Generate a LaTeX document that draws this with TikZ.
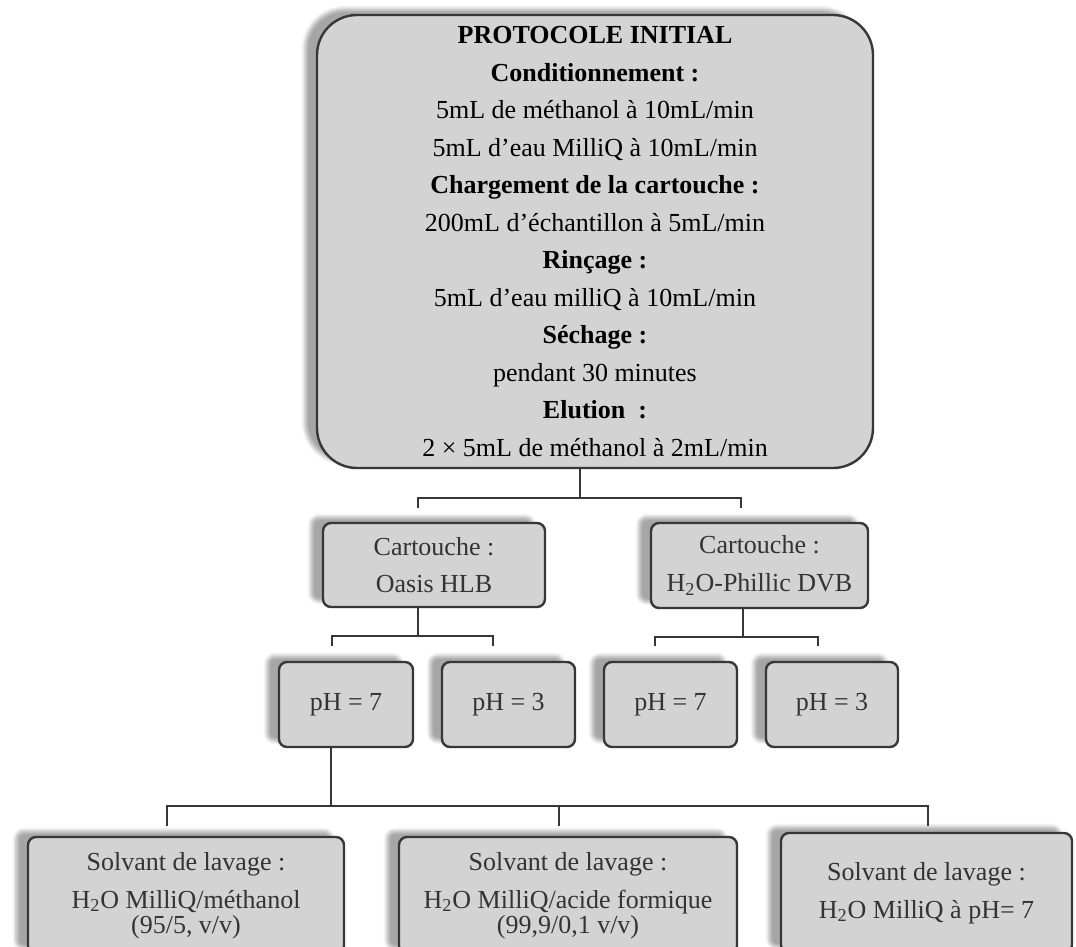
\documentclass[tikz,border=0pt]{standalone}
\usepackage{fontspec}
\setmainfont{Liberation Serif}
\usepackage{xcolor}
\usepackage{tikz}
\usetikzlibrary{shadows.blur}

\definecolor{boxgray}{RGB}{211,211,211}
\definecolor{edgegray}{RGB}{55,55,55}

\begin{document}
\begin{tikzpicture}[
  x=0.5pt, y=-0.5pt,
  font=\fontsize{13}{18.75}\selectfont,
  b/.style={draw=edgegray, line width=1.2pt, fill=boxgray, rounded corners=4pt, align=center, inner sep=0pt, text=black!80,
    blur shadow={shadow xshift=-6pt, shadow yshift=3pt, shadow opacity=35, shadow blur steps=6}},
  link/.style={draw=edgegray, line width=1pt}
]
\useasboundingbox (0,0) rectangle (1076,947);
\clip (0,0) rectangle (1076,947);

\node[b, rounded corners=20pt, minimum width=278pt, minimum height=226.5pt, text=black] (prot) at (595,241.5)
  {\textbf{PROTOCOLE INITIAL}\\ \textbf{Conditionnement :}\\ 5mL de méthanol à 10mL/min\\ 5mL d’eau MilliQ à 10mL/min\\
   \textbf{Chargement de la cartouche :}\\ 200mL d’échantillon à 5mL/min\\ \textbf{Rinçage :}\\ 5mL d’eau milliQ à 10mL/min\\
   \textbf{Séchage :}\\ pendant 30 minutes\\ \textbf{Elution~ :}\\ 2 × 5mL de méthanol à 2mL/min};

\node[b, minimum width=111pt, minimum height=42pt] (oasis) at (434,565) {Cartouche :\\ Oasis HLB};
\node[b, minimum width=108.5pt, minimum height=42.5pt] (dvb) at (759.5,565.5) {Cartouche :\\ H\textsubscript{2}O-Phillic DVB};

\node[b, minimum width=67pt, minimum height=42.5pt] (ph7a) at (346,704.5) {pH = 7};
\node[b, minimum width=66.5pt, minimum height=42.5pt] (ph3a) at (508.5,704.5) {pH = 3};
\node[b, minimum width=66.5pt, minimum height=42.5pt] (ph7b) at (670.5,704.5) {pH = 7};
\node[b, minimum width=66pt, minimum height=42.5pt] (ph3b) at (832,704.5) {pH = 3};

\node[b, minimum width=158pt, minimum height=58.5pt] (sol1) at (186,895.5)
  {Solvant de lavage :\\ H\textsubscript{2}O MilliQ/méthanol\\[-6.25pt] (95/5, v/v)};
\node[b, minimum width=169pt, minimum height=58.5pt] (sol2) at (568,895.5)
  {Solvant de lavage :\\ H\textsubscript{2}O MilliQ/acide formique\\[-6.25pt] (99,9/0,1 v/v)};
\node[b, minimum width=145.5pt, minimum height=60pt] (sol3) at (926.5,893)
  {Solvant de lavage :\\ H\textsubscript{2}O MilliQ à pH= 7};

\draw[link] ([xshift=-7.5pt]prot.south) -- ++(0,29) coordinate (j1);
\draw[link, shorten >=7pt] (j1) -| ([xshift=-8pt]oasis.north);
\draw[link, shorten >=7pt] (j1) -| ([xshift=-9.25pt]dvb.north);
\draw[link] ([xshift=-8pt]oasis.south) -- ++(0,28) coordinate (j2);
\draw[link, shorten >=7.5pt] (j2) -| ([xshift=-7pt]ph7a.north);
\draw[link, shorten >=7.5pt] (j2) -| ([xshift=-7.75pt]ph3a.north);
\draw[link] ([xshift=-8.25pt]dvb.south) -- ++(0,28) coordinate (j3);
\draw[link, shorten >=7.5pt] (j3) -| ([xshift=-7.75pt]ph7b.north);
\draw[link, shorten >=7.5pt] (j3) -| ([xshift=-7pt]ph3b.north);
\draw[link] ([xshift=-7.5pt]ph7a.south) -- ++(0,58) coordinate (j4);
\draw[link, shorten >=5pt] (j4) -| ([xshift=-9.5pt]sol1.north);
\draw[link, shorten >=5pt] (j4) -| ([xshift=-4.5pt]sol2.north);
\draw[link, shorten >=3pt] (j4) -| ([xshift=0.75pt]sol3.north);
\end{tikzpicture}
\end{document}
